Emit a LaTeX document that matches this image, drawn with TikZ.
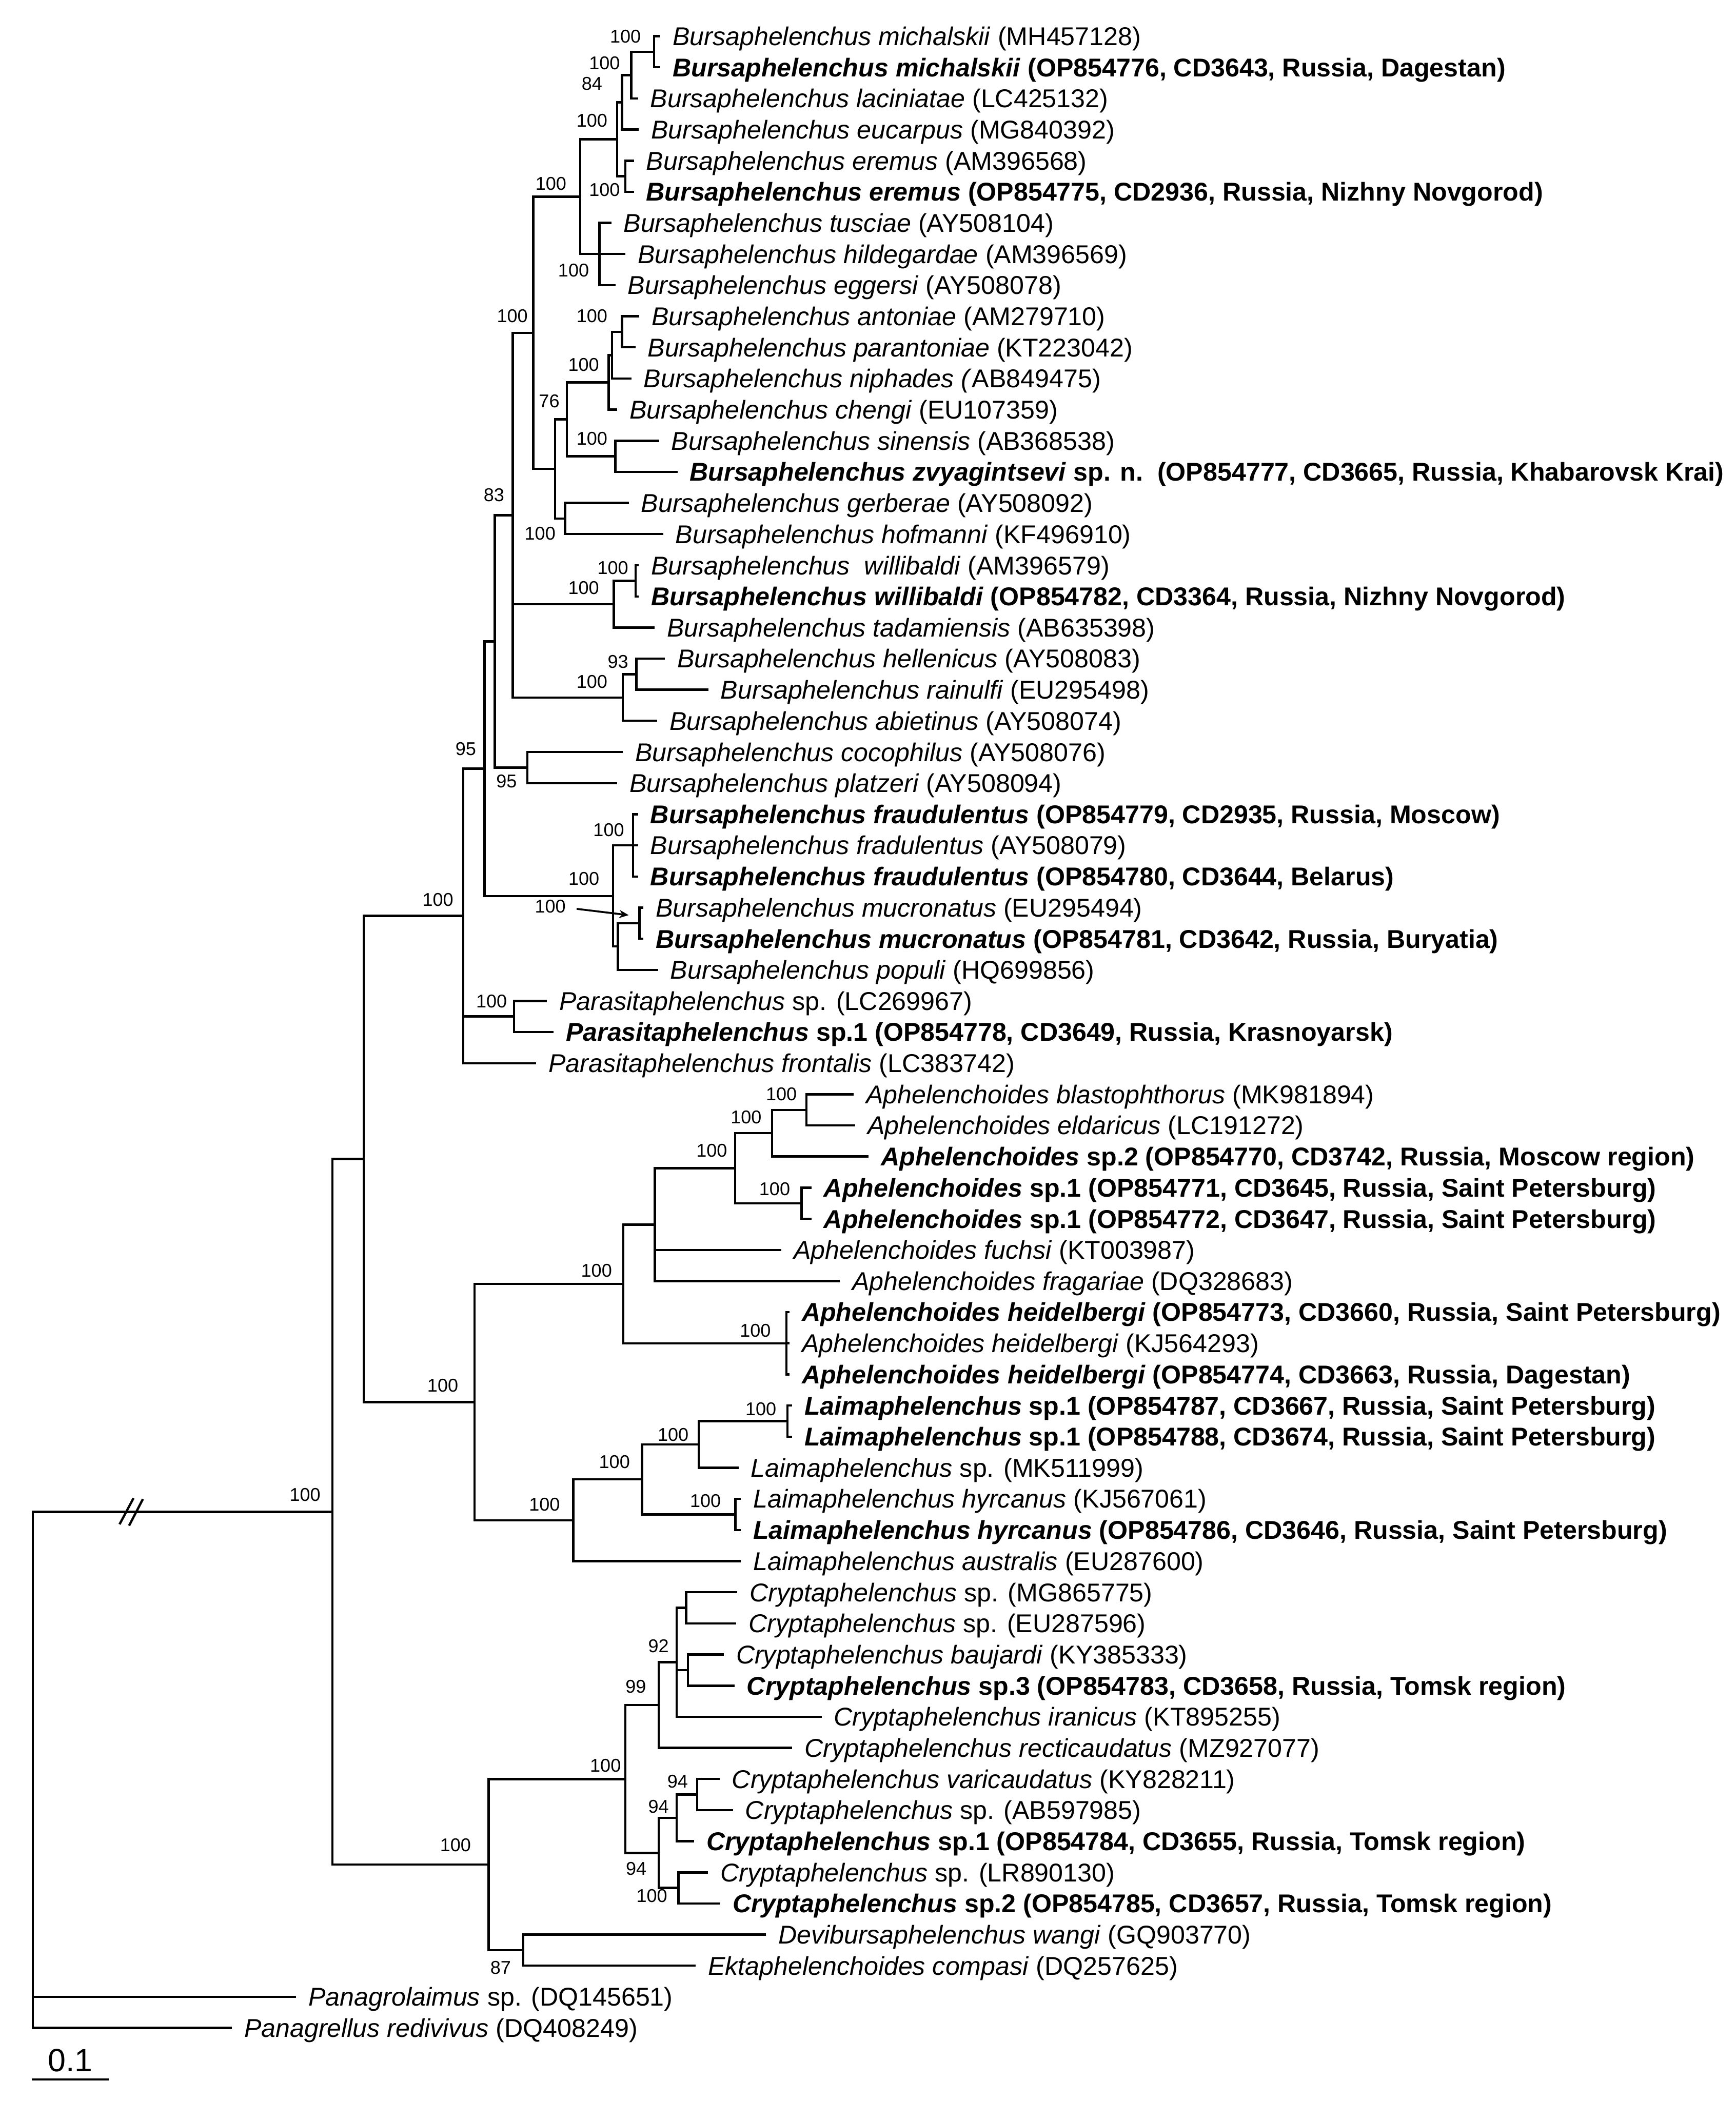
\documentclass[tikz,border=0pt]{standalone}
\usepackage{fontspec}
\setmainfont{Liberation Sans}
\usetikzlibrary{calc,arrows.meta}
\newcommand{\mkclade}[3]{\draw[br] (#2) -| (#1) |- (#3);}
\newcommand{\mkmid}[2]{\draw[br] (#1 |- #2) -- (#2);}
\begin{document}
\begin{tikzpicture}[x=1pt,y=-1pt,
  br/.style={line width=1.7pt, line join=miter},
  leaf/.style={anchor=west, inner xsep=9pt, inner ysep=0pt, text height=13.7pt, text depth=0pt, font=\fontsize{19.2}{23}\selectfont},
  bs/.style={inner sep=0pt, font=\fontsize{13.8}{15}\selectfont}]
\useasboundingbox (0,0) rectangle (1295,1567.6);
% ---------------- leaves
\node[leaf] (l1) at (492.6,27.0) {\textit{Bursaphelenchus michalskii} (MH457128)};
\node[leaf] (l2) at (492.6,50.2) {\textbf{\textit{Bursaphelenchus michalskii} (OP854776, CD3643, Russia, Dagestan)}};
\node[leaf] (l3) at (476,73.4) {\textit{Bursaphelenchus laciniatae} (LC425132)};
\node[leaf] (l4) at (476.6,96.7) {\textit{Bursaphelenchus eucarpus} (MG840392)};
\node[leaf] (l5) at (472.9,119.9) {\textit{Bursaphelenchus eremus} (AM396568)};
\node[leaf] (l6) at (472.9,143.1) {\textbf{\textit{Bursaphelenchus eremus} (OP854775, CD2936, Russia, Nizhny Novgorod)}};
\node[leaf] (l7) at (456,166.3) {\textit{Bursaphelenchus tusciae} (AY508104)};
\node[leaf] (l8) at (466.6,189.5) {\textit{Bursaphelenchus hildegardae} (AM396569)};
\node[leaf] (l9) at (459.1,212.8) {\textit{Bursaphelenchus eggersi} (AY508078)};
\node[leaf] (l10) at (477,236.0) {\textit{Bursaphelenchus antoniae} (AM279710)};
\node[leaf] (l11) at (474,259.2) {\textit{Bursaphelenchus parantoniae} (KT223042)};
\node[leaf] (l12) at (471,282.4) {\textit{Bursaphelenchus niphades (}AB849475)};
\node[leaf] (l13) at (460.4,305.6) {\textit{Bursaphelenchus chengi} (EU107359)};
\node[leaf] (l14) at (491.6,328.9) {\textit{Bursaphelenchus sinensis} (AB368538)};
\node[leaf] (l15) at (505.4,352.1) {\textbf{\textit{Bursaphelenchus zvyagintsevi} sp. n.\ \ (OP854777, CD3665, Russia, Khabarovsk Krai)}};
\node[leaf] (l16) at (469.1,375.3) {\textit{Bursaphelenchus gerberae} (AY508092)};
\node[leaf] (l17) at (494.7,398.5) {\textit{Bursaphelenchus hofmanni} (KF496910)};
\node[leaf] (l18) at (476.6,421.8) {\textit{Bursaphelenchus\ \ willibaldi} (AM396579)};
\node[leaf] (l19) at (476.6,445.0) {\textbf{\textit{Bursaphelenchus willibaldi} (OP854782, CD3364, Russia, Nizhny Novgorod)}};
\node[leaf] (l20) at (488.5,468.2) {\textit{Bursaphelenchus tadamiensis} (AB635398)};
\node[leaf] (l21) at (496,491.4) {\textit{Bursaphelenchus hellenicus} (AY508083)};
\node[leaf] (l22) at (528.5,514.6) {\textit{Bursaphelenchus rainulfi} (EU295498)};
\node[leaf] (l23) at (490.4,537.8) {\textit{Bursaphelenchus abietinus} (AY508074)};
\node[leaf] (l24) at (464.7,561.1) {\textit{Bursaphelenchus cocophilus} (AY508076)};
\node[leaf] (l25) at (460.4,584.3) {\textit{Bursaphelenchus platzeri} (AY508094)};
\node[leaf] (l26) at (476,607.5) {\textbf{\textit{Bursaphelenchus fraudulentus} (OP854779, CD2935, Russia, Moscow)}};
\node[leaf] (l27) at (476,630.7) {\textit{Bursaphelenchus fradulentus} (AY508079)};
\node[leaf] (l28) at (476,654.0) {\textbf{\textit{Bursaphelenchus fraudulentus} (OP854780, CD3644, Belarus)}};
\node[leaf] (l29) at (480.1,677.2) {\textit{Bursaphelenchus mucronatus} (EU295494)};
\node[leaf] (l30) at (480.1,700.4) {\textbf{\textit{Bursaphelenchus mucronatus} (OP854781, CD3642, Russia, Buryatia)}};
\node[leaf] (l31) at (491,723.6) {\textit{Bursaphelenchus populi} (HQ699856)};
\node[leaf] (l32) at (408,746.8) {\textit{Parasitaphelenchus} sp. (LC269967)};
\node[leaf] (l33) at (413,770.0) {\textbf{\textit{Parasitaphelenchus} sp.1 (OP854778, CD3649, Russia, Krasnoyarsk)}};
\node[leaf] (l34) at (400,793.3) {\textit{Parasitaphelenchus frontalis} (LC383742)};
\node[leaf] (l35) at (637,816.5) {\textit{Aphelenchoides blastophthorus} (MK981894)};
\node[leaf] (l36) at (638,839.7) {\textit{Aphelenchoides eldaricus} (LC191272)};
\node[leaf] (l37) at (648,862.9) {\textbf{\textit{Aphelenchoides} sp.2 (OP854770, CD3742, Russia, Moscow region)}};
\node[leaf] (l38) at (605.4,886.1) {\textbf{\textit{Aphelenchoides} sp.1 (OP854771, CD3645, Russia, Saint Petersburg)}};
\node[leaf] (l39) at (605.4,909.4) {\textbf{\textit{Aphelenchoides} sp.1 (OP854772, CD3647, Russia, Saint Petersburg)}};
\node[leaf] (l40) at (583,932.6) {\textit{Aphelenchoides fuchsi} (KT003987)};
\node[leaf] (l41) at (626.6,955.8) {\textit{Aphelenchoides fragariae} (DQ328683)};
\node[leaf] (l42) at (589,979.0) {\textbf{\textit{Aphelenchoides heidelbergi} (OP854773, CD3660, Russia, Saint Petersburg)}};
\node[leaf] (l43) at (589,1002.2) {\textit{Aphelenchoides heidelbergi} (KJ564293)};
\node[leaf] (l44) at (589,1025.5) {\textbf{\textit{Aphelenchoides heidelbergi} (OP854774, CD3663, Russia, Dagestan)}};
\node[leaf] (l45) at (591,1048.7) {\textbf{\textit{Laimaphelenchus} sp.1 (OP854787, CD3667, Russia, Saint Petersburg)}};
\node[leaf] (l46) at (591,1071.9) {\textbf{\textit{Laimaphelenchus} sp.1 (OP854788, CD3674, Russia, Saint Petersburg)}};
\node[leaf] (l47) at (551,1095.1) {\textit{Laimaphelenchus} sp. (MK511999)};
\node[leaf] (l48) at (552.7,1118.3) {\textit{Laimaphelenchus hyrcanus} (KJ567061)};
\node[leaf] (l49) at (552.7,1141.6) {\textbf{\textit{Laimaphelenchus hyrcanus} (OP854786, CD3646, Russia, Saint Petersburg)}};
\node[leaf] (l50) at (552.7,1164.8) {\textit{Laimaphelenchus australis} (EU287600)};
\node[leaf] (l51) at (550,1188.0) {\textit{Cryptaphelenchus} sp. (MG865775)};
\node[leaf] (l52) at (549.3,1211.2) {\textit{Cryptaphelenchus} sp. (EU287596)};
\node[leaf] (l53) at (540,1234.4) {\textit{Cryptaphelenchus baujardi} (KY385333)};
\node[leaf] (l54) at (548,1257.7) {\textbf{\textit{Cryptaphelenchus} sp.3 (OP854783, CD3658, Russia, Tomsk region)}};
\node[leaf] (l55) at (613,1280.9) {\textit{Cryptaphelenchus iranicus} (KT895255)};
\node[leaf] (l56) at (591,1304.1) {\textit{Cryptaphelenchus recticaudatus} (MZ927077)};
\node[leaf] (l57) at (536.9,1327.3) {\textit{Cryptaphelenchus varicaudatus} (KY828211)};
\node[leaf] (l58) at (546.8,1350.5) {\textit{Cryptaphelenchus} sp. (AB597985)};
\node[leaf] (l59) at (517.8,1373.8) {\textbf{\textit{Cryptaphelenchus} sp.1 (OP854784, CD3655, Russia, Tomsk region)}};
\node[leaf] (l60) at (528.3,1397.0) {\textit{Cryptaphelenchus} sp. (LR890130)};
\node[leaf] (l61) at (537.5,1420.2) {\textbf{\textit{Cryptaphelenchus} sp.2 (OP854785, CD3657, Russia, Tomsk region)}};
\node[leaf] (l62) at (571.4,1443.4) {\textit{Devibursaphelenchus wangi} (GQ903770)};
\node[leaf] (l63) at (519,1466.6) {\textit{Ektaphelenchoides compasi} (DQ257625)};
\node[leaf] (l64) at (221,1489.9) {\textit{Panagrolaimus} sp. (DQ145651)};
\node[leaf] (l65) at (173,1513.1) {\textit{Panagrellus redivivus} (DQ408249)};
% ---------------- internal nodes
\coordinate (nMich) at (487.9,38.6);
\coordinate (nA2) at (471,56.0);
\coordinate (nA3) at (464,76.35);
\coordinate (nErem) at (466.6,131.5);
\coordinate (nA4) at (460.4,103.9);
\coordinate (nTus) at (447.2,189.55);
\coordinate (nA5) at (432.9,146.7);
\coordinate (nC3) at (464.1,247.6);
\coordinate (nC2) at (456.6,265.0);
\coordinate (nC1) at (454.1,285.3);
\coordinate (nB4) at (459.1,340.5);
\coordinate (nB3) at (422.9,312.9);
\coordinate (nB5) at (421.6,386.9);
\coordinate (nB2) at (414.1,349.9);
\coordinate (nB1) at (397.9,248.3);
\coordinate (nWil) at (474.1,433.4);
\coordinate (nE1) at (457.9,450.8);
\coordinate (nHR) at (474.7,503.0);
\coordinate (nE2) at (464.7,520.4);
\coordinate (nD1) at (382.5,384.35);
\coordinate (nE3) at (393.5,572.7);
\coordinate (nD0) at (369.1,478.5);
\coordinate (nH1) at (472.2,630.75);
\coordinate (nH3) at (477.1,688.8);
\coordinate (nH2) at (461,706.2);
\coordinate (nH0) at (457.3,668.5);
\coordinate (nF0) at (361.5,573.5);
\coordinate (nPar) at (383.4,758.4);
\coordinate (nG0) at (345.6,683.4);
\coordinate (nI5) at (601.6,828.1);
\coordinate (nI4) at (576,845.5);
\coordinate (nSp1) at (597.9,897.75);
\coordinate (nI3) at (548.5,871.6);
\coordinate (nI2) at (488.5,913.7);
\coordinate (nHei) at (586.6,1002.25);
\coordinate (nI1) at (465,958.0);
\coordinate (nLs1) at (587.5,1060.3);
\coordinate (nJ2) at (521.3,1077.7);
\coordinate (nHyr) at (548.6,1129.95);
\coordinate (nJ1) at (479,1103.8);
\coordinate (nJ0) at (427.7,1134.3);
\coordinate (nI0) at (354,1046.15);
\coordinate (nBA) at (271.3,864.8);
\coordinate (nK4) at (511.8,1199.6);
\coordinate (nK5) at (513.2,1246.05);
\coordinate (nK3) at (504.7,1240.25);
\coordinate (nK2) at (491.3,1272.2);
\coordinate (nL4) at (520.2,1338.9);
\coordinate (nL3) at (504.8,1356.35);
\coordinate (nL6) at (506.1,1408.6);
\coordinate (nL2) at (491.3,1382.5);
\coordinate (nK1) at (466.6,1327.35);
\coordinate (nDE) at (390.4,1455.0);
\coordinate (nK0) at (364.5,1391.2);
\coordinate (nIn) at (248,1128.0);
\coordinate (nRoot) at (24.6,1320);
% ---------------- branches
\mkclade{nMich}{l1.west}{l2.west}
\mkclade{nA2}{nMich}{l3.west}
\mkclade{nA3}{nA2}{l4.west}
\mkclade{nErem}{l5.west}{l6.west}
\mkclade{nA4}{nA3}{nErem}
\mkclade{nTus}{l7.west}{l9.west} \mkmid{nTus}{l8.west}
\mkclade{nA5}{nA4}{nTus}
\mkclade{nC3}{l10.west}{l11.west}
\mkclade{nC2}{nC3}{l12.west}
\mkclade{nC1}{nC2}{l13.west}
\mkclade{nB4}{l14.west}{l15.west}
\mkclade{nB3}{nC1}{nB4}
\mkclade{nB5}{l16.west}{l17.west}
\mkclade{nB2}{nB3}{nB5}
\mkclade{nB1}{nA5}{nB2}
\mkclade{nWil}{l18.west}{l19.west}
\mkclade{nE1}{nWil}{l20.west}
\mkclade{nHR}{l21.west}{l22.west}
\mkclade{nE2}{nHR}{l23.west}
\mkclade{nD1}{nB1}{nE2} \mkmid{nD1}{nE1}
\mkclade{nE3}{l24.west}{l25.west}
\mkclade{nD0}{nD1}{nE3}
\mkclade{nH1}{l26.west}{l28.west} \mkmid{nH1}{l27.west}
\mkclade{nH3}{l29.west}{l30.west}
\mkclade{nH2}{nH3}{l31.west}
\mkclade{nH0}{nH1}{nH2}
\mkclade{nF0}{nD0}{nH0}
\mkclade{nPar}{l32.west}{l33.west}
\mkclade{nG0}{nF0}{l34.west} \mkmid{nG0}{nPar}
\mkclade{nI5}{l35.west}{l36.west}
\mkclade{nI4}{nI5}{l37.west}
\mkclade{nSp1}{l38.west}{l39.west}
\mkclade{nI3}{nI4}{nSp1}
\mkclade{nI2}{nI3}{l41.west} \mkmid{nI2}{l40.west}
\mkclade{nHei}{l42.west}{l44.west} \mkmid{nHei}{l43.west}
\mkclade{nI1}{nI2}{nHei}
\mkclade{nLs1}{l45.west}{l46.west}
\mkclade{nJ2}{nLs1}{l47.west}
\mkclade{nHyr}{l48.west}{l49.west}
\mkclade{nJ1}{nJ2}{nHyr}
\mkclade{nJ0}{nJ1}{l50.west}
\mkclade{nI0}{nI1}{nJ0}
\mkclade{nBA}{nG0}{nI0}
\mkclade{nK4}{l51.west}{l52.west}
\mkclade{nK5}{l53.west}{l54.west}
\mkclade{nK3}{nK4}{l55.west} \mkmid{nK3}{nK5}
\mkclade{nK2}{nK3}{l56.west}
\mkclade{nL4}{l57.west}{l58.west}
\mkclade{nL3}{nL4}{l59.west}
\mkclade{nL6}{l60.west}{l61.west}
\mkclade{nL2}{nL3}{nL6}
\mkclade{nK1}{nK2}{nL2}
\mkclade{nDE}{l62.west}{l63.west}
\mkclade{nK0}{nK1}{nDE}
\mkclade{nIn}{nBA}{nK0}
\mkclade{nRoot}{nIn}{l65.west} \mkmid{nRoot}{l64.west}
% ---------------- break marks on the root branch
\coordinate (s1a) at (89.2,1137.3); \coordinate (s1b) at (99.6,1117.8);
\coordinate (s2a) at (96.3,1138.3); \coordinate (s2b) at (106.6,1118.5);
\draw[br] (s1a) -- (s1b);
\draw[br] (s2a) -- (s2b);
% ---------------- bootstrap values
\node[bs] (b1) at (466.6,27.3) {100};
\node[bs] (b2) at (451,47.2) {100};
\node[bs] (b3) at (441.6,62.6) {84};
\node[bs] (b4) at (441.6,89.9) {100};
\node[bs] (b5) at (451,141.5) {100};
\node[bs] (b6) at (411,137.1) {100};
\node[bs] (b7) at (427.9,201.9) {100};
\node[bs] (b8) at (382.2,235.9) {100};
\node[bs] (b9) at (441.6,235.9) {100};
\node[bs] (b10) at (435.4,272) {100};
\node[bs] (b11) at (409.7,299.3) {76};
\node[bs] (b12) at (441.6,327.3) {100};
\node[bs] (b13) at (402.9,398) {100};
\node[bs] (b14) at (368.5,369.3) {83};
\node[bs] (b15) at (457.2,423.8) {100};
\node[bs] (b16) at (435.4,438.6) {100};
\node[bs] (b17) at (461,493.9) {93};
\node[bs] (b18) at (441.6,508.6) {100};
\node[bs] (b19) at (377.9,583) {95};
\node[bs] (b20) at (347.5,558.7) {95};
\node[bs] (b21) at (454.1,619.2) {100};
\node[bs] (b22) at (435.6,655.5) {100};
\node[bs] (b23) at (410.5,676.2) {100};
\node[bs] (b24) at (366.7,747.2) {100};
\node[bs] (b25) at (326.7,671.2) {100};
\node[bs] (b26) at (582.9,816.5) {100};
\node[bs] (b27) at (556.6,833.4) {100};
\node[bs] (b28) at (531,858.5) {100};
\node[bs] (b29) at (577.9,887.2) {100};
\node[bs] (b30) at (445,948) {100};
\node[bs] (b31) at (563.5,992.6) {100};
\node[bs] (b32) at (330.3,1033.9) {100};
\node[bs] (b33) at (567.6,1051.5) {100};
\node[bs] (b34) at (502.2,1070.4) {100};
\node[bs] (b35) at (458.4,1090.7) {100};
\node[bs] (b36) at (526.3,1119.7) {100};
\node[bs] (b37) at (406.2,1122.6) {100};
\node[bs] (b38) at (227.6,1115.3) {100};
\node[bs] (b39) at (491.3,1228.2) {92};
\node[bs] (b40) at (474.3,1258.3) {99};
\node[bs] (b41) at (451.7,1317.2) {100};
\node[bs] (b42) at (505.5,1329) {94};
\node[bs] (b43) at (491.3,1348) {94};
\node[bs] (b44) at (474.6,1394.3) {94};
\node[bs] (b45) at (486.3,1414.6) {100};
\node[bs] (b46) at (339.8,1376.8) {100};
\node[bs] (b47) at (373.5,1468) {87};
% ---------------- arrow to the mucronatus pair
\coordinate (arS) at (430.2,678.1);
\coordinate (arE) at (469,682.8);
\draw[line width=1.4pt,-{Stealth[length=7pt,width=6pt]}] (arS) -- (arE);
% ---------------- scale bar
\coordinate (sbL) at (23.9,1551.5);
\coordinate (sbR) at (81.2,1551.5);
\draw[br] (sbL) -- (sbR);
\node[inner sep=0pt, font=\fontsize{24}{26}\selectfont] (sbT) at (52.5,1537.4) {0.1};
\end{tikzpicture}
\end{document}
